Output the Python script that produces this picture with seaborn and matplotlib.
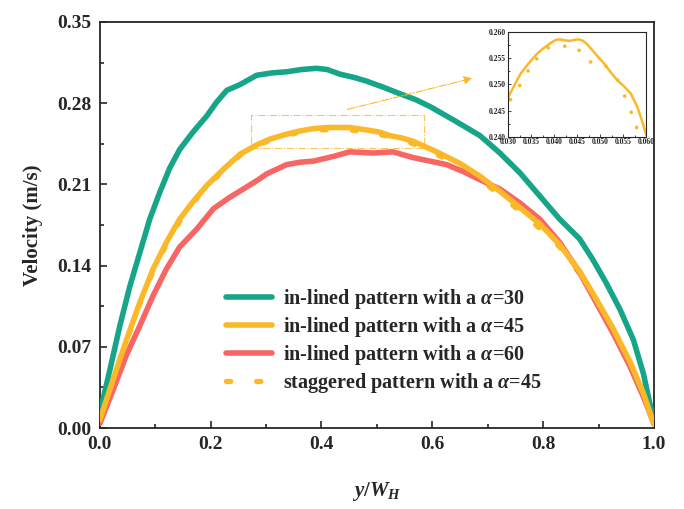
import matplotlib
matplotlib.use("Agg")
import matplotlib.pyplot as plt
from matplotlib.patches import Rectangle
import seaborn as sns

# main curves (x = y/W_H, y = velocity m/s)
x30 = [0, 0.018, 0.036, 0.054, 0.072, 0.09, 0.108, 0.126, 0.144, 0.168, 0.193, 0.211,
       0.229, 0.253, 0.283, 0.31, 0.337, 0.365, 0.391, 0.41, 0.433, 0.46, 0.481, 0.51,
       0.542, 0.57, 0.596, 0.64, 0.686, 0.722, 0.758, 0.794, 0.83, 0.866, 0.89, 0.914,
       0.939, 0.963, 0.981, 1.0]
v30 = [0.013, 0.050, 0.088, 0.122, 0.151, 0.180, 0.203, 0.224, 0.240, 0.255, 0.269, 0.281,
       0.291, 0.296, 0.304, 0.306, 0.307, 0.309, 0.310, 0.309, 0.305, 0.302, 0.299, 0.294,
       0.288, 0.283, 0.277, 0.265, 0.252, 0.237, 0.220, 0.200, 0.180, 0.163, 0.145, 0.125,
       0.102, 0.076, 0.047, 0.005]

x45 = [0, 0.024, 0.048, 0.072, 0.096, 0.12, 0.144, 0.168, 0.193, 0.223, 0.253, 0.283,
       0.307, 0.335, 0.361, 0.385, 0.41, 0.451, 0.48, 0.505, 0.523, 0.545, 0.566, 0.608,
       0.65, 0.686, 0.722, 0.758, 0.794, 0.83, 0.866, 0.896, 0.926, 0.957, 0.981, 1.0]
v45 = [0.007, 0.042, 0.076, 0.108, 0.137, 0.160, 0.180, 0.195, 0.209, 0.223, 0.236, 0.244,
       0.249, 0.253, 0.256, 0.258, 0.259, 0.259, 0.257, 0.255, 0.252, 0.250, 0.247, 0.238,
       0.228, 0.217, 0.204, 0.190, 0.176, 0.158, 0.135, 0.111, 0.086, 0.057, 0.030, 0.003]

x60 = [0, 0.024, 0.048, 0.072, 0.096, 0.12, 0.144, 0.174, 0.205, 0.235, 0.259, 0.286,
       0.301, 0.337, 0.36, 0.385, 0.421, 0.451, 0.493, 0.529, 0.566, 0.596, 0.626, 0.656,
       0.686, 0.722, 0.758, 0.794, 0.83, 0.866, 0.896, 0.926, 0.957, 0.981, 1.0]
v60 = [0.004, 0.033, 0.063, 0.088, 0.114, 0.137, 0.156, 0.171, 0.189, 0.199, 0.206, 0.214,
       0.219, 0.227, 0.229, 0.230, 0.234, 0.238, 0.237, 0.238, 0.233, 0.230, 0.227, 0.221,
       0.214, 0.206, 0.194, 0.180, 0.160, 0.134, 0.108, 0.082, 0.053, 0.027, 0.004]

xst = [0, 0.024, 0.048, 0.072, 0.096, 0.12, 0.144, 0.168, 0.193, 0.223, 0.253, 0.283,
       0.307, 0.335, 0.361, 0.385, 0.41, 0.451, 0.48, 0.505, 0.523, 0.545, 0.566, 0.608,
       0.65, 0.686, 0.722, 0.758, 0.794, 0.83, 0.866, 0.896, 0.926, 0.957, 0.981, 1.0]
vst = [0.007, 0.041, 0.075, 0.107, 0.135, 0.158, 0.178, 0.194, 0.208, 0.222, 0.235, 0.243,
       0.248, 0.252, 0.255, 0.257, 0.257, 0.257, 0.255, 0.253, 0.251, 0.248, 0.245, 0.236,
       0.225, 0.214, 0.201, 0.187, 0.172, 0.156, 0.133, 0.110, 0.085, 0.056, 0.029, 0.003]

# zoomed inset (absolute y, m)
ins_x = [0.030, 0.0327, 0.0345, 0.0363, 0.0378, 0.0392, 0.0403, 0.0412, 0.0425, 0.0433,
         0.0443, 0.0452, 0.0461, 0.0470, 0.0479, 0.0494, 0.0508, 0.0522, 0.0537, 0.0552,
         0.0566, 0.0580, 0.0590, 0.060]
ins_v = [0.2476, 0.2521, 0.2541, 0.2559, 0.2570, 0.2579, 0.2585, 0.2586, 0.2584, 0.2583,
         0.2585, 0.2586, 0.2584, 0.2578, 0.2569, 0.2554, 0.2540, 0.2524, 0.2508, 0.2496,
         0.2483, 0.2458, 0.2432, 0.2403]
dot_x = [0.0305, 0.0325, 0.0343, 0.0362, 0.0387, 0.0423, 0.0454, 0.0479, 0.0512,
         0.0538, 0.0553, 0.0567, 0.0579]
dot_v = [0.2471, 0.2498, 0.2526, 0.2549, 0.2570, 0.2573, 0.2565, 0.2543, 0.2535,
         0.2508, 0.2478, 0.2447, 0.2418]

labels = [r"in-lined pattern with a $\alpha$=30", r"in-lined pattern with a $\alpha$=45",
          r"in-lined pattern with a $\alpha$=60", r"staggered pattern with a $\alpha$=45"]
GREEN, ORANGE, RED = "#17a589", "#fbb829", "#f76565"

sns.set_style("ticks")
plt.rcParams["font.family"] = ["Liberation Serif", "DejaVu Serif"]
plt.rcParams["font.weight"] = "bold"
plt.rcParams["mathtext.fontset"] = "custom"
plt.rcParams["mathtext.it"] = "Liberation Serif:italic:bold"
plt.rcParams["mathtext.rm"] = "Liberation Serif:bold"
plt.rcParams["lines.solid_joinstyle"] = "round"
plt.rcParams["lines.solid_capstyle"] = "round"

fig = plt.figure(figsize=(6.84, 5.09), dpi=100)
ax = fig.add_axes([0.146, 0.159, 0.81, 0.798])

sns.lineplot(x=x30, y=v30, ax=ax, color=GREEN, lw=4, label=labels[0], zorder=3)
sns.lineplot(x=x45, y=v45, ax=ax, color=ORANGE, lw=4, label=labels[1], zorder=4)
sns.lineplot(x=x60, y=v60, ax=ax, color=RED, lw=4, label=labels[2], zorder=3)
sns.lineplot(x=xst, y=vst, ax=ax, color=ORANGE, lw=3.8, label=labels[3], zorder=2,
             linestyle=(0, (0.8, 4.9)), dash_capstyle="round")

ax.add_patch(Rectangle((0.272, 0.241), 0.313, 0.029, fill=False, ec=ORANGE,
                       lw=0.8, ls="-.", alpha=0.8))
ax.annotate("", xy=(0.677, 0.302), xytext=(0.442, 0.274),
            arrowprops=dict(arrowstyle="-|>", color=ORANGE, lw=0.8, ls="-.",
                            mutation_scale=12))

ax.set_xlim(0, 1.0)
ax.set_ylim(0, 0.35)
ax.set_xticks([0, 0.2, 0.4, 0.6, 0.8, 1.0])
ax.set_xticks([0.1, 0.3, 0.5, 0.7, 0.9], minor=True)
ax.set_yticks([0, 0.07, 0.14, 0.21, 0.28, 0.35])
ax.set_yticks([0.035, 0.105, 0.175, 0.245, 0.315], minor=True)
ax.set_xticklabels([f"{t:.1f}" for t in ax.get_xticks()])
ax.set_yticklabels([f"{t:.2f}" for t in ax.get_yticks()])
ax.tick_params(direction="in", labelsize=14, length=5, width=1.2, pad=6)
ax.tick_params(which="minor", direction="in", length=3, width=1.2)
for s in ax.spines.values():
    s.set_linewidth(1.3)
    s.set_visible(True)
ax.set_xlabel(r"$y/W_H$", fontsize=15, labelpad=19)
ax.set_ylabel("Velocity (m/s)", fontsize=15, fontweight="bold", labelpad=10)

ax.legend(loc="center left", bbox_to_anchor=(0.195, 0.215), frameon=False,
          prop={"size": 14.5, "weight": "bold"}, handlelength=2.3,
          labelspacing=0.2, handletextpad=0.55)

# inset
axi = fig.add_axes([0.743, 0.731, 0.202, 0.206])
sns.lineplot(x=ins_x, y=ins_v, ax=axi, color=ORANGE, lw=1.8)
sns.scatterplot(x=dot_x, y=dot_v, ax=axi, color=ORANGE, s=7, edgecolor="none")
axi.set_xlim(0.030, 0.060)
axi.set_ylim(0.240, 0.260)
axi.set_xticks([0.030, 0.035, 0.040, 0.045, 0.050, 0.055, 0.060])
axi.set_yticks([0.240, 0.245, 0.250, 0.255, 0.260])
axi.set_xticks([0.0325, 0.0375, 0.0425, 0.0475, 0.0525, 0.0575], minor=True)
axi.set_yticks([0.2425, 0.2475, 0.2525, 0.2575], minor=True)
axi.set_xticklabels([f"{t:.3f}" for t in axi.get_xticks()])
axi.set_yticklabels([f"{t:.3f}" for t in axi.get_yticks()])
axi.tick_params(direction="in", labelsize=5.5, length=2, width=0.6, pad=1)
axi.tick_params(axis="y", pad=2)
axi.tick_params(which="minor", direction="in", length=1.2, width=0.6)
for s in axi.spines.values():
    s.set_linewidth(0.8)

fig.savefig("out.png", dpi=100)
plt.close(fig)
